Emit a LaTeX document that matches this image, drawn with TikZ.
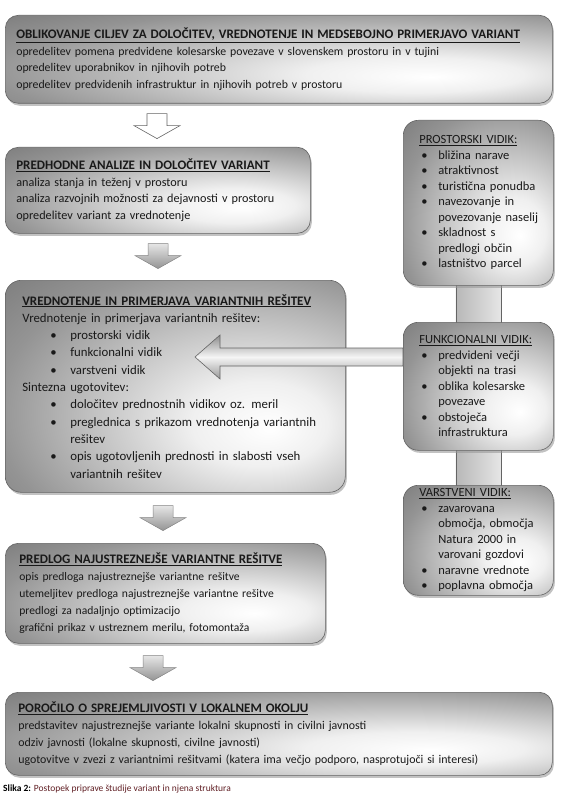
\documentclass[tikz,border=0pt]{standalone}
\usepackage{fontspec}
\setmainfont{Carlito}
\usetikzlibrary{calc, shadows, backgrounds}
\definecolor{txtdark}{RGB}{25,25,25}
\definecolor{edgegray}{RGB}{100,100,100}
\definecolor{capred}{RGB}{95,30,35}
\pgfdeclareradialshading{boxshade}{\pgfpoint{14bp}{-10bp}}{color(0bp)=(white); color(10bp)=(black!6); color(35bp)=(black!42); color(55bp)=(black!60); color(90bp)=(black!70)}
\newcommand{\lbul}{\hspace*{28pt}\makebox[20pt][l]{\textbullet}}
\newcommand{\lcont}{\hspace*{48pt}}
\newcommand{\rhdr}[1]{\hspace*{9pt}\underline{#1}}
\newcommand{\rbul}{\hspace*{11pt}\makebox[17pt][l]{\textbullet}}
\newcommand{\rcont}{\hspace*{28pt}}
\newcommand{\hdr}[1]{{\fontsize{13}{16}\selectfont\underline{\textbf{#1}}}}
\newcommand{\fsz}[2]{\fontsize{#1}{#2}\selectfont}
\tikzset{
  box/.style={draw=edgegray, line width=0.6pt, rounded corners=13pt, shade, shading=boxshade, anchor=north west, align=left, inner xsep=11pt, inner ysep=4pt, text=txtdark, font=\fsz{12}{16.5}, drop shadow={shadow xshift=1.5pt, shadow yshift=-2.5pt, fill=black!40, opacity=0.6}},
  vidik/.style={box, rounded corners=15pt, inner xsep=7pt, inner ysep=1pt, text width=136pt, minimum height=#1, font=\fsz{12.5}{15.5}},
  hollow/.style={draw=edgegray, fill=white, line width=0.6pt},
  grayarrow/.style={draw=edgegray!80, line width=0.5pt, top color=black!10, bottom color=black!42},
  bar/.style={draw=edgegray, line width=0.6pt, left color=black!28, right color=black!10},
  leftarrow/.style={draw=edgegray, line width=0.6pt, top color=black!45, bottom color=black!40, middle color=black!4},
  pics/blockarrow/.style={code={
    \draw[#1] (-10,0) -- (10,0) -- (10,12) -- (23,12) -- (0,25) -- (-23,12) -- (-10,12) -- cycle;
  }}
}

\begin{document}
\begin{tikzpicture}[x=1pt, y=-1pt]
  \useasboundingbox (0,0) rectangle (566,805);

  % main steps
  \node[box, text width=525pt, minimum height=88pt, font=\fsz{11.8}{16.5}] (goals) at (5,15) {%
    \hdr{OBLIKOVANJE CILJEV ZA DOLOČITEV, VREDNOTENJE IN MEDSEBOJNO PRIMERJAVO VARIANT}\\
    opredelitev pomena predvidene kolesarske povezave v slovenskem prostoru in v tujini\\
    opredelitev uporabnikov in njihovih potreb\\
    opredelitev predvidenih infrastruktur in njihovih potreb v prostoru};

  \node[box, text width=283pt, minimum height=86pt, font=\fsz{12.2}{16.5}] (prehod) at (5,147) {%
    \hdr{PREDHODNE ANALIZE IN DOLOČITEV VARIANT}\\
    analiza stanja in teženj v prostoru\\
    analiza razvojnih možnosti za dejavnosti v prostoru\\
    opredelitev variant za vrednotenje};

  \node[box, inner xsep=17pt, text width=306pt, minimum height=212pt, rounded corners=16pt, font=\fsz{12.8}{17.3}] (vredn) at (5,280) {%
    \hdr{VREDNOTENJE IN PRIMERJAVA VARIANTNIH REŠITEV}\\
    Vrednotenje in primerjava variantnih rešitev:\\
    \lbul prostorski vidik\\
    \lbul funkcionalni vidik\\
    \lbul varstveni vidik\\
    Sintezna ugotovitev:\\
    \lbul določitev prednostnih vidikov oz. meril\\
    \lbul preglednica s prikazom vrednotenja variantnih\\
    \lcont rešitev\\
    \lbul opis ugotovljenih prednosti in slabosti vseh\\
    \lcont variantnih rešitev};

  \node[box, inner xsep=14pt, text width=292pt, minimum height=100pt, font=\fsz{11.6}{17}] (predlog) at (5,543) {%
    \hdr{PREDLOG NAJUSTREZNEJŠE VARIANTNE REŠITVE}\\
    opis predloga najustreznejše variantne rešitve\\
    utemeljitev predloga najustreznejše variantne rešitve\\
    predlogi za nadaljnjo optimizacijo\\
    grafični prikaz v ustreznem merilu, fotomontaža};

  \node[box, inner xsep=13pt, text width=521pt, minimum height=83pt, font=\fsz{11.9}{17}] (porocilo) at (5,692) {%
    \hdr{POROČILO O SPREJEMLJIVOSTI V LOKALNEM OKOLJU}\\
    predstavitev najustreznejše variante lokalni skupnosti in civilni javnosti\\
    odziv javnosti (lokalne skupnosti, civilne javnosti)\\
    ugotovitve v zvezi z variantnimi rešitvami (katera ima večjo podporo, nasprotujoči si interesi)};

  % aspects on the right
  \node[vidik=165pt] (pros) at (403,120) {%
    \rhdr{PROSTORSKI VIDIK:}\\
    \rbul bližina narave\\
    \rbul atraktivnost\\
    \rbul turistična ponudba\\
    \rbul navezovanje in\\
    \rcont povezovanje naselij\\
    \rbul skladnost s\\
    \rcont predlogi občin\\
    \rbul lastništvo parcel};

  \node[vidik=128pt] (funk) at (403,322) {%
    \rhdr{FUNKCIONALNI VIDIK:}\\
    \rbul predvideni večji\\
    \rcont objekti na trasi\\
    \rbul oblika kolesarske\\
    \rcont povezave\\
    \rbul obstoječa\\
    \rcont infrastruktura};

  \node[vidik=110pt] (varst) at (403,485) {%
    \rhdr{VARSTVENI VIDIK:}\\
    \rbul zavarovana\\
    \rcont območja, območja\\
    \rcont Natura 2000 in\\
    \rcont varovani gozdovi\\
    \rbul naravne vrednote\\
    \rbul poplavna območja};

  % block arrows between steps
  \pic at ($(goals.south west)+(152,10)$) {blockarrow=hollow};
  \pic at ($(prehod.south west)+(153,10)$) {blockarrow=grayarrow};
  \pic at ($(vredn.south west)+(158,13)$) {blockarrow=grayarrow};
  \pic at ($(predlog.south west)+(148,12)$) {blockarrow=grayarrow};

  \begin{scope}[on background layer]
    \draw[bar] ($(pros.south)+(-22.5,-4)$) rectangle ($(funk.north)+(22.5,4)$);
    \draw[bar] ($(funk.south)+(-22.5,-4)$) rectangle ($(varst.north)+(22.5,4)$);
  \end{scope}

  % arrow from the aspects into the evaluation
  \coordinate (tail) at ($(funk.north west)+(0,35)$);
  \coordinate (tip) at (195,357);
  \draw[leftarrow] ($(tail)+(0,-9)$) -- ($(tip)+(25,-9)$) -- ($(tip)+(25,-22)$) -- (tip)
    -- ($(tip)+(25,22)$) -- ($(tip)+(25,9)$) -- ($(tail)+(0,9)$) -- cycle;

  \node[anchor=west, inner sep=0pt, font=\fsz{9.5}{11}] (cap) at (3,789)
    {\textbf{Slika 2:} \textcolor{capred}{Postopek priprave študije variant in njena struktura}};
\end{tikzpicture}
\end{document}
